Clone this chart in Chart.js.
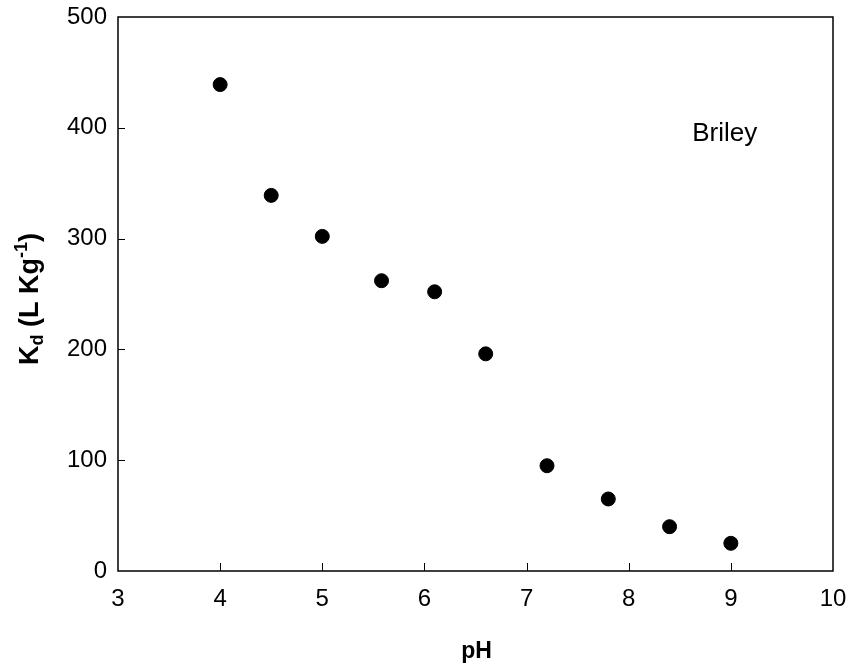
<!DOCTYPE html>
<html>
<head>
<meta charset="utf-8">
<script src="https://cdn.jsdelivr.net/npm/chart.js@4/dist/chart.umd.min.js"></script>
<style>
  html, body { margin: 0; padding: 0; background: #fff; }
  #wrap { width: 853px; height: 671px; position: relative; }
</style>
</head>
<body>
<div id="wrap"><canvas id="c" width="853" height="671"></canvas></div>
<script>
const pH = [4.0, 4.5, 5.0, 5.58, 6.1, 6.6, 7.2, 7.8, 8.4, 9.0];
const Kd = [439, 339, 302, 262, 252, 196, 95, 65, 40, 25];
const xTicks = [3, 4, 5, 6, 7, 8, 9, 10];
const yTicks = [0, 100, 200, 300, 400, 500];
const soilLabel = "Briley";
const soilLabelPos = { x: 8.94, y: 395 };
const xTitle = "pH";

const FONT = "Arial, 'Liberation Sans', sans-serif";

const framePlugin = {
  id: 'frame',
  afterDraw(chart) {
    const ctx = chart.ctx;
    const a = chart.chartArea;
    const xs = chart.scales.x, ys = chart.scales.y;
    ctx.save();
    ctx.strokeStyle = '#000';
    ctx.lineWidth = 1.5;
    ctx.strokeRect(a.left, a.top, a.right - a.left, a.bottom - a.top);
    ctx.lineWidth = 1;
    ctx.beginPath();
    xTicks.forEach(v => {
      if (v === xTicks[0] || v === xTicks[xTicks.length - 1]) return;
      const px = Math.round(xs.getPixelForValue(v)) + 0.5;
      ctx.moveTo(px, a.bottom);
      ctx.lineTo(px, a.bottom - 8);
    });
    yTicks.forEach(v => {
      if (v === yTicks[0] || v === yTicks[yTicks.length - 1]) return;
      const py = Math.round(ys.getPixelForValue(v)) + 0.5;
      ctx.moveTo(a.left, py);
      ctx.lineTo(a.left + 7, py);
    });
    ctx.stroke();

    // Briley label
    ctx.fillStyle = '#000';
    ctx.font = '26px ' + FONT;
    ctx.textAlign = 'center';
    ctx.textBaseline = 'middle';
    ctx.fillText(soilLabel, xs.getPixelForValue(soilLabelPos.x), ys.getPixelForValue(soilLabelPos.y));

    // x title (centred on the plot area)
    ctx.font = 'bold 23px ' + FONT;
    ctx.textBaseline = 'alphabetic';
    ctx.fillText(xTitle, (a.left + a.right) / 2 + 1, 658);

    // y title with subscript / superscript
    ctx.translate(38, 299);
    ctx.rotate(-Math.PI / 2);
    const big = 'bold 27px ' + FONT;
    const small = 'bold 18px ' + FONT;
    const parts = [
      { t: 'K', f: big, dy: 0 },
      { t: 'd', f: small, dy: 5 },
      { t: ' (L Kg', f: big, dy: 0 },
      { t: '-1', f: small, dy: -11 },
      { t: ')', f: big, dy: 0 }
    ];
    let total = 0;
    parts.forEach(p => { ctx.font = p.f; total += ctx.measureText(p.t).width; });
    let x = -total / 2;
    ctx.textAlign = 'left';
    parts.forEach(p => {
      ctx.font = p.f;
      ctx.fillText(p.t, x, p.dy);
      x += ctx.measureText(p.t).width;
    });
    ctx.restore();
  }
};

new Chart(document.getElementById('c'), {
  type: 'scatter',
  data: {
    datasets: [{
      label: soilLabel,
      data: pH.map((v, i) => ({ x: v, y: Kd[i] })),
      backgroundColor: '#000',
      borderColor: '#000',
      pointRadius: 7,
      pointHoverRadius: 7
    }]
  },
  options: {
    responsive: false,
    animation: false,
    devicePixelRatio: 1,
    layout: { padding: { left: 0, right: 20, top: 17, bottom: 0 } },
    plugins: { legend: { display: false }, tooltip: { enabled: false } },
    scales: {
      x: {
        type: 'linear', min: 3, max: 10,
        afterFit(s) { s.height = 100; s.paddingLeft = 0; s.paddingRight = 0; },
        afterBuildTicks(s) { s.ticks = xTicks.map(v => ({ value: v })); },
        grid: { display: false, drawTicks: false },
        border: { display: false },
        ticks: { color: '#000', font: { family: FONT, size: 24 }, padding: 14 }
      },
      y: {
        type: 'linear', min: 0, max: 500,
        afterFit(s) { s.width = 118; s.paddingTop = 0; s.paddingBottom = 0; },
        afterBuildTicks(s) { s.ticks = yTicks.map(v => ({ value: v })); },
        grid: { display: false, drawTicks: false },
        border: { display: false },
        ticks: { color: '#000', font: { family: FONT, size: 24 }, padding: 11 }
      }
    }
  },
  plugins: [framePlugin]
});
</script>
</body>
</html>
